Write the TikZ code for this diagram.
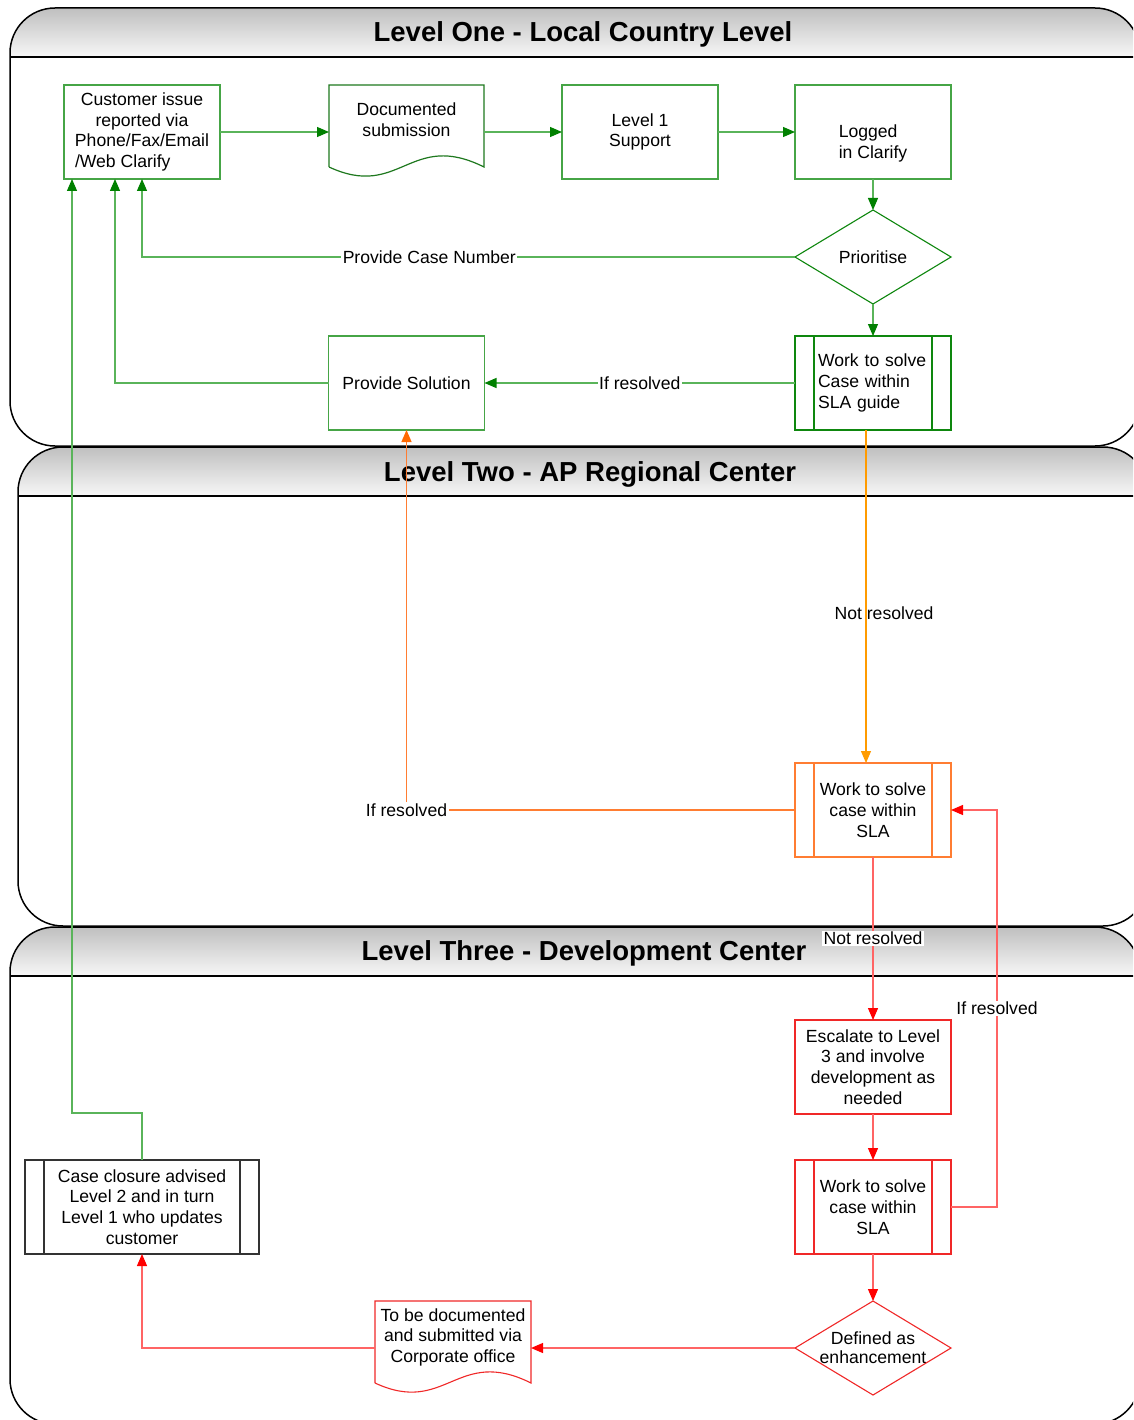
\documentclass[tikz,border=0pt]{standalone}
\usepackage{fontspec}
\setmainfont{Liberation Sans}
\usetikzlibrary{positioning, arrows.meta}

\definecolor{boxgreen}{RGB}{70,165,70}
\definecolor{docgreen}{RGB}{30,120,30}
\definecolor{linegreen}{RGB}{90,180,90}
\definecolor{headgreen}{RGB}{0,128,0}
\definecolor{amber}{RGB}{255,155,0}
\definecolor{boxorange}{RGB}{255,125,50}
\definecolor{tiporange}{RGB}{255,105,0}
\definecolor{linered}{RGB}{255,100,100}
\definecolor{boxred}{RGB}{240,40,40}
\definecolor{tipred}{RGB}{255,0,0}

\newcommand\bodyfont{\fontsize{17.6}{20.8}\selectfont}
\newcommand\headfont{\fontsize{27.5}{33}\selectfont\bfseries}

\begin{document}
\begin{tikzpicture}[x=1pt, y=-1pt]
\tikzstyle{box}=[rectangle, draw=boxgreen, line width=1.1pt, minimum width=156pt, minimum height=94pt, inner sep=2pt, outer sep=0pt, align=center, font=\bodyfont]
\tikzstyle{blank}=[rectangle, minimum width=156pt, minimum height=94pt, inner sep=2pt, outer sep=0pt, align=center, font=\bodyfont]
\tikzstyle{lane}=[draw=black, line width=1.5pt, rounded corners=45pt]
\tikzstyle{header}=[top color=black!25, bottom color=black!3]
\tikzstyle{title}=[font=\headfont]
\tikzstyle{lbl}=[fill=white, font=\bodyfont, inner sep=1.5pt]
\tikzstyle{gconnect}=[draw=linegreen, line width=1.2pt, -{Triangle[length=12pt, width=10pt, color=headgreen]}]
\tikzstyle{oconnect}=[draw=boxorange, line width=1.2pt, -{Triangle[length=12pt, width=10pt, color=tiporange]}]
\tikzstyle{rconnect}=[draw=linered, line width=1.2pt, -{Triangle[length=12pt, width=10pt, color=tipred]}]

\useasboundingbox (0,0) rectangle (1133,1420);
\fill[white] (0,0) rectangle (1133,1420);
\clip (0,0) rectangle (1133,1420);

% 1. Lanes
%%%%%%%%%%
\begin{scope}
\clip[rounded corners=45pt] (10,8) rectangle (1140,446);
\shade[header] (10,8) rectangle (1140,57);
\end{scope}
\draw[lane] (10,8) rectangle (1140,446);
\draw[line width=2pt] (10,57) -- (1140,57);
\node[title] (laneOne) at (583,34) {Level One - Local Country Level};

\begin{scope}
\clip[rounded corners=45pt] (18,447) rectangle (1148,926);
\shade[header] (18,447) rectangle (1148,496);
\end{scope}
\draw[lane] (18,447) rectangle (1148,926);
\draw[line width=2pt] (18,496) -- (1148,496);
\node[title] (laneTwo) at (590,474) {Level Two - AP Regional Center};

\begin{scope}
\clip[rounded corners=45pt] (10,927) rectangle (1140,1424);
\shade[header] (10,927) rectangle (1140,976);
\end{scope}
\draw[lane] (10,927) rectangle (1140,1424);
\draw[line width=2pt] (10,976) -- (1140,976);
\node[title] (laneThree) at (584,953) {Level Three - Development Center};

% 2. Nodes
%%%%%%%%%%
\node[box] (cust) at (142,132) {Customer issue\\reported via\\Phone/Fax/Email\\\makebox[134pt][l]{/Web Clarify}};
\node[blank, minimum width=155pt, minimum height=82pt] (doc1) at (406.5,126) {Documented\\submission\\[-8pt]\mbox{}};
\node[box] (lvl1) at (640,132) {Level 1\\Support};
\node[box, align=left] (logged) at (873,132) {\strut\\Logged\\in Clarify};
\node[blank] (prio) [below=31pt of logged] {Prioritise};
\node[box, draw=headgreen!80!boxgreen, text width=110pt, align=left] (work1) [below=32pt of prio] {Work to solve\\Case within\\SLA guide};
\node[box] (provsol) at (doc1 |- work1) {Provide Solution};

\node[box, draw=boxorange] (work2) at (873,810) {Work to solve\\case within\\SLA};

\node[box, draw=boxred] (esc) at (873,1067) {Escalate to Level\\3 and involve\\development as\\needed};
\node[box, draw=boxred] (work3) [below=46pt of esc] {Work to solve\\case within\\SLA};
\node[blank, font=\fontsize{17.6}{19}\selectfont] (enh) [below=47pt of work3] {Defined as\\enhancement};
\node[blank, minimum height=82pt] (doc2) at (453,1342) {To be documented\\and submitted via\\Corporate office\\[-8pt]\mbox{}};
\node[box, draw=black!80, minimum width=234pt] (closure) at (cust |- work3) {Case closure advised\\Level 2 and in turn\\Level 1 who updates\\customer};

% shapes drawn on the nodes
\draw[headgreen!80!boxgreen, line width=1.1pt] (prio.north) -- (prio.east) -- (prio.south) -- (prio.west) -- cycle;
\draw[boxred, line width=1.1pt] (enh.north) -- (enh.east) -- (enh.south) -- (enh.west) -- cycle;
\draw[docgreen, line width=1.2pt] (doc1.south west) -- (doc1.north west) -- (doc1.north east) -- (doc1.south east)
      .. controls +(-74pt,37pt) and +(71pt,-33pt) .. (doc1.south west);
\draw[boxred, line width=1.1pt] (doc2.south west) -- (doc2.north west) -- (doc2.north east) -- (doc2.south east)
      .. controls +(-74pt,37pt) and +(71pt,-33pt) .. (doc2.south west);
\foreach \n/\c in {work1/headgreen!80!boxgreen, work2/boxorange, work3/boxred, closure/black!80}
  \draw[\c, line width=1.1pt] ([xshift=19pt]\n.north west) -- ([xshift=19pt]\n.south west)
        ([xshift=-19pt]\n.north east) -- ([xshift=-19pt]\n.south east);

% 3. Arrows
%%%%%%%%%%%
\draw[gconnect] (cust.east) -- (cust.east -| doc1.west);
\draw[gconnect] (doc1.east |- lvl1.west) -- (lvl1.west);
\draw[gconnect] (lvl1) -- (logged);
\draw[gconnect] (logged) -- (prio);
\draw[gconnect] (prio) -- (work1);
\draw[gconnect] (prio.west) -| node[lbl, pos=0.28] {Provide Case Number} (cust.south);
\draw[gconnect] (work1) -- node[lbl] {If resolved} (provsol);
\draw[gconnect] (provsol.west) -| ([xshift=-27pt]cust.south);
\draw[gconnect] (closure.north) -- ++(0,-47) -| ([xshift=-70pt]cust.south);

\draw[draw=amber, line width=1.2pt, -{Triangle[length=12pt, width=10pt, color=amber]}]
  ([xshift=-7pt]work1.south) -- node[font=\bodyfont, pos=0.55, xshift=18pt] {Not resolved} ([xshift=-7pt]work2.north);
\draw[oconnect] (work2.west) -| node[lbl, pos=0.5] {If resolved} (provsol.south);

\draw[rconnect] (work2) -- node[lbl] {Not resolved} (esc);
\draw[rconnect] (esc) -- (work3);
\draw[rconnect] (work3) -- (enh);
\draw[rconnect] (work3.east) -- ++(46,0) |- node[lbl, pos=0.25] {If resolved} (work2.east);
\draw[rconnect] (enh.west) -- (enh.west -| doc2.east);
\draw[rconnect] (enh.west -| doc2.west) -| (closure.south);

\end{tikzpicture}
\end{document}
